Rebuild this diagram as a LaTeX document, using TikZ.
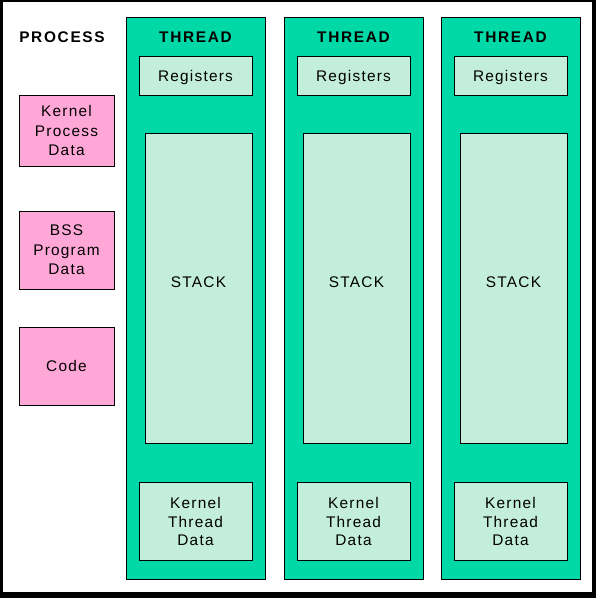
\documentclass[tikz,border=0pt]{standalone}
\usepackage{fontspec}
\setmainfont{Liberation Sans}[LetterSpace=8]
\definecolor{thrgreen}{RGB}{0,216,168}
\definecolor{litegreen}{RGB}{196,238,220}
\definecolor{procpink}{RGB}{255,168,216}
\newcommand{\shiftdown}[2]{\raisebox{-#1}[\height][\depth]{#2}}
\begin{document}
\begin{tikzpicture}[x=1pt,y=-1pt,
  box/.style={draw=black,line width=1pt,inner sep=0pt,align=center,
    font=\fontsize{15.4}{19.5}\selectfont},
  threadbox/.style={box,fill=thrgreen,minimum width=139pt,minimum height=562pt},
  regbox/.style={box,fill=litegreen,minimum width=113pt,minimum height=39pt},
  stackbox/.style={box,fill=litegreen,minimum width=107pt,minimum height=310pt},
  ktdbox/.style={box,fill=litegreen,minimum width=113pt,minimum height=78pt,
    font=\fontsize{15.4}{18.5}\selectfont},
  pinkbox/.style={box,fill=procpink,minimum width=95pt},
  title/.style={inner sep=0pt,font=\fontsize{15.4}{18}\selectfont\bfseries\addfontfeatures{LetterSpace=11}}
]
\useasboundingbox (0,0) rectangle (596,598);
\fill[black] (0,0) rectangle (596,598);
\fill[white] (3,2) rectangle (592,592);

\node[title] (proc) at (62,37.5) {PROCESS};
\node[pinkbox,minimum height=71pt] (kpd) at (66.5,130.5) {Kernel\\Process\\Data};
\node[pinkbox,minimum height=78pt] (bss) at (66.5,250) {BSS\\Program\\Data};
\node[pinkbox,minimum height=78pt] (code) at (66.5,366) {Code};

\foreach \i/\dx in {1/0,2/158,3/315}{
  \node[threadbox] (t\i) at (195.5+\dx,298) {};
  \node[title] (tl\i) at (195.5+\dx,37.5) {THREAD};
  \node[regbox] (r\i) at (195.5+\dx,75.5) {\shiftdown{2.5pt}{Registers}};
  \node[stackbox] (s\i) at (198.5+\dx,288) {\shiftdown{-6pt}{STACK}};
  \node[ktdbox] (k\i) at (195.5+\dx,521) {\shiftdown{2.5pt}{\begin{tabular}{@{}c@{}}Kernel\\Thread\\Data\end{tabular}}};
}
\end{tikzpicture}
\end{document}
